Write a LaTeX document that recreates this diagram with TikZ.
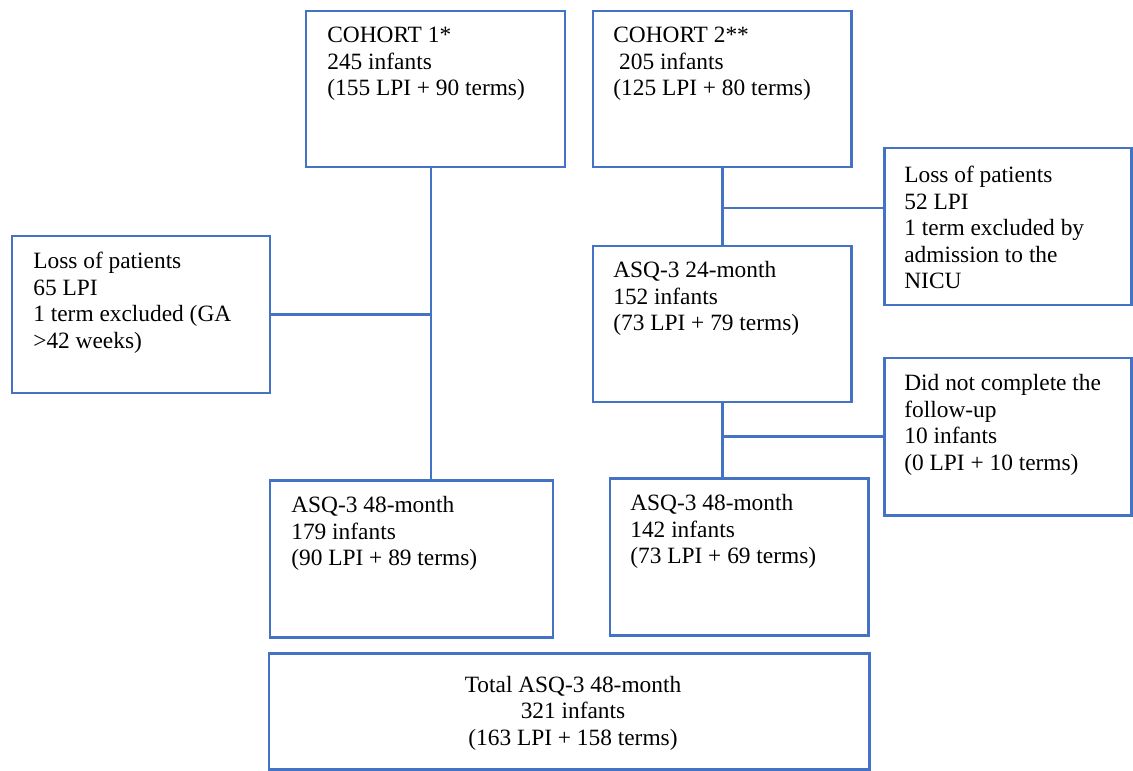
\documentclass[tikz,border=0pt]{standalone}
\usepackage{fontspec}
\setmainfont{Liberation Serif}
\usetikzlibrary{fit,positioning}
\definecolor{FlowBlue}{HTML}{4472C4}

\begin{document}
\begin{tikzpicture}[x=0.02cm,y=-0.02cm,
   flowbox/.style={draw=FlowBlue,line width=1.7pt,inner sep=0pt,rectangle},
   boxtext/.style={anchor=north west,inner sep=0pt,align=left,font=\fontsize{13.3}{15.1}\selectfont},
   link/.style={draw=FlowBlue,line width=1.7pt}]
   \useasboundingbox (0,0) rectangle (1133,771);

   % boxes
   \node[flowbox,fit={(306,11) (565,167)}] (c1) {};
   \node[flowbox,fit={(593,11) (851,167)}] (c2) {};
   \node[flowbox,fit={(12,236) (270,393)}] (lossl) {};
   \node[flowbox,fit={(884,148) (1131,305)}] (lossr) {};
   \node[flowbox,fit={(593,246) (851,402)}] (a24) {};
   \node[flowbox,fit={(884,358) (1131,515)}] (dnc) {};
   \node[flowbox,fit={(270,480) (553,637)}] (a48l) {};
   \node[flowbox,fit={(610,478) (868,635)}] (a48r) {};
   \node[flowbox,fit={(269,653) (869,769)}] (total) {};

   % texts
   \node[boxtext] (c1txt) at (327,27) {COHORT 1*\\245 infants\\(155 LPI + 90 terms)};
   \node[boxtext] (c2txt) at (613,27) {COHORT 2**\\\hspace*{0.25em}205 infants\\(125 LPI + 80 terms)};
   \node[boxtext] (lossltxt) at (33,252)
     {Loss of patients\\65 LPI\\1 term excluded (GA\\>42 weeks)};
   \node[boxtext] (lossrtxt) at (904,166)
     {Loss of patients\\52 LPI\\1 term excluded by\\admission to the\\NICU};
   \node[boxtext] (a24txt) at (613,261) {ASQ-3 24-month\\152 infants\\(73 LPI + 79 terms)};
   \node[boxtext] (dnctxt) at (904,374)
     {Did not complete the\\follow-up\\10 infants\\(0 LPI + 10 terms)};
   \node[boxtext] (a48ltxt) at (291,496) {ASQ-3 48-month\\179 infants\\(90 LPI + 89 terms)};
   \node[boxtext] (a48rtxt) at (630,494) {ASQ-3 48-month\\142 infants\\(73 LPI + 69 terms)};
   \node[boxtext,anchor=center,align=center] (totaltxt) at (573,713)
     {Total ASQ-3 48-month\\321 infants\\(163 LPI + 158 terms)};

   % connectors
   \coordinate (spine1) at (431,315);
   \coordinate (fork2) at (722,208);
   \draw[link] (c1.south -| spine1) -- (a48l.north -| spine1);
   \draw[link] (lossl.east) -- (lossl.east -| spine1);
   \draw[link] (c2.south) -- (a24.north);
   \draw[link] (fork2) -- (fork2 -| lossr.west);
   \draw[link] (a24.south) -- (a24.south |- a48r.north);
   \draw[link] (dnc.west) -- (dnc.west -| a24.south);
\end{tikzpicture}
\end{document}
